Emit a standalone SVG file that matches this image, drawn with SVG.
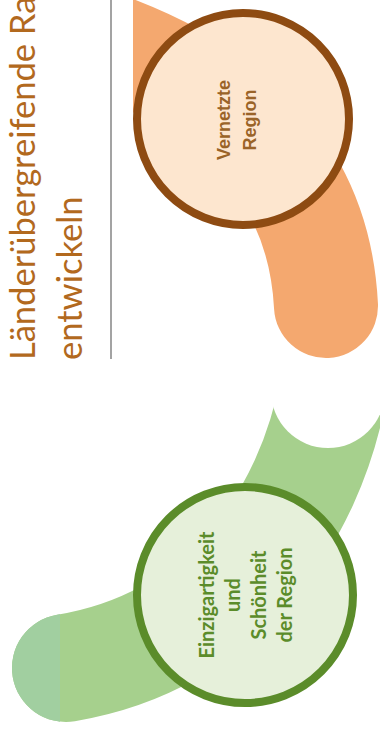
<svg xmlns="http://www.w3.org/2000/svg" width="380" height="740" viewBox="0 0 380 740">
  <defs>
    <style>
      .title { font-family: Lato, "Open Sans", sans-serif; font-size: 34.5px; fill: #B2691E; }
      .road { fill: none; }
      .road-orange { stroke: #F4A86F; stroke-width: 104; stroke-linecap: round; }
      .road-green { stroke: #A6D08D; stroke-width: 108; stroke-linecap: round; }
      .road-green-tip { stroke: #A1CFA0; stroke-width: 108; stroke-linecap: round; }
      .node-orange circle { fill: #FDE6CF; stroke: #8E4B12; stroke-width: 8; }
      .node-green circle { fill: #E6F0DA; stroke: #5B8C2A; stroke-width: 8; }
      .label-orange { font-family: "Liberation Sans", Arial, sans-serif; font-weight: bold; font-size: 18px; fill: #9A6328; text-anchor: middle; }
      .label-green { font-family: Lato, "Liberation Sans", sans-serif; font-weight: bold; font-size: 20px; fill: #5B8C2A; text-anchor: middle; }
    </style>
    <clipPath id="clip-right-of-divider" clipPathUnits="userSpaceOnUse">
      <rect x="133" y="-20" width="270" height="420"/>
    </clipPath>
    <clipPath id="clip-tip" clipPathUnits="userSpaceOnUse">
      <rect x="0" y="560" width="60" height="180"/>
    </clipPath>
    <!-- concave cut-out where the green road begins -->
    <mask id="notch" maskUnits="userSpaceOnUse" x="0" y="0" width="380" height="740">
      <rect x="0" y="0" width="380" height="740" fill="#fff"/>
      <rect x="0" y="0" width="380" height="391" fill="#000"/>
      <circle cx="328" cy="391" r="57" fill="#000"/>
    </mask>
  </defs>

  <rect width="380" height="740" fill="#fff"/>

  <!-- heading, reading bottom to top -->
  <g id="title">
    <text class="title" transform="rotate(-90)" x="-360" y="35">Länderübergreifende Ra</text>
    <text class="title" transform="rotate(-90)" x="-360" y="82">entwickeln</text>
  </g>

  <line id="divider" x1="111" y1="0" x2="111" y2="359" stroke="#A3A3A3" stroke-width="2"/>

  <!-- road bands linking the stations -->
  <g id="connectors">
    <path class="road road-orange" clip-path="url(#clip-right-of-divider)" d="M 55 28 C 205 70, 318 150, 326 306"/>
    <g mask="url(#notch)">
      <path class="road road-green" d="M 334 385 C 310 520, 222 642, 66 668"/>
      <path class="road road-green-tip" clip-path="url(#clip-tip)" d="M 334 385 C 310 520, 222 642, 66 668"/>
    </g>
  </g>

  <g id="node-vernetzte-region" class="node-orange">
    <circle cx="243" cy="119" r="106"/>
    <text class="label-orange" transform="rotate(-90)" x="-120" y="230">Vernetzte</text>
    <text class="label-orange" transform="rotate(-90)" x="-120" y="256">Region</text>
  </g>

  <g id="node-einzigartigkeit" class="node-green">
    <circle cx="245" cy="595" r="108"/>
    <text class="label-green" transform="rotate(-90)" x="-595" y="214">Einzigartigkeit</text>
    <text class="label-green" transform="rotate(-90)" x="-595" y="240">und</text>
    <text class="label-green" transform="rotate(-90)" x="-595" y="266">Schönheit</text>
    <text class="label-green" transform="rotate(-90)" x="-595" y="292">der Region</text>
  </g>
</svg>
